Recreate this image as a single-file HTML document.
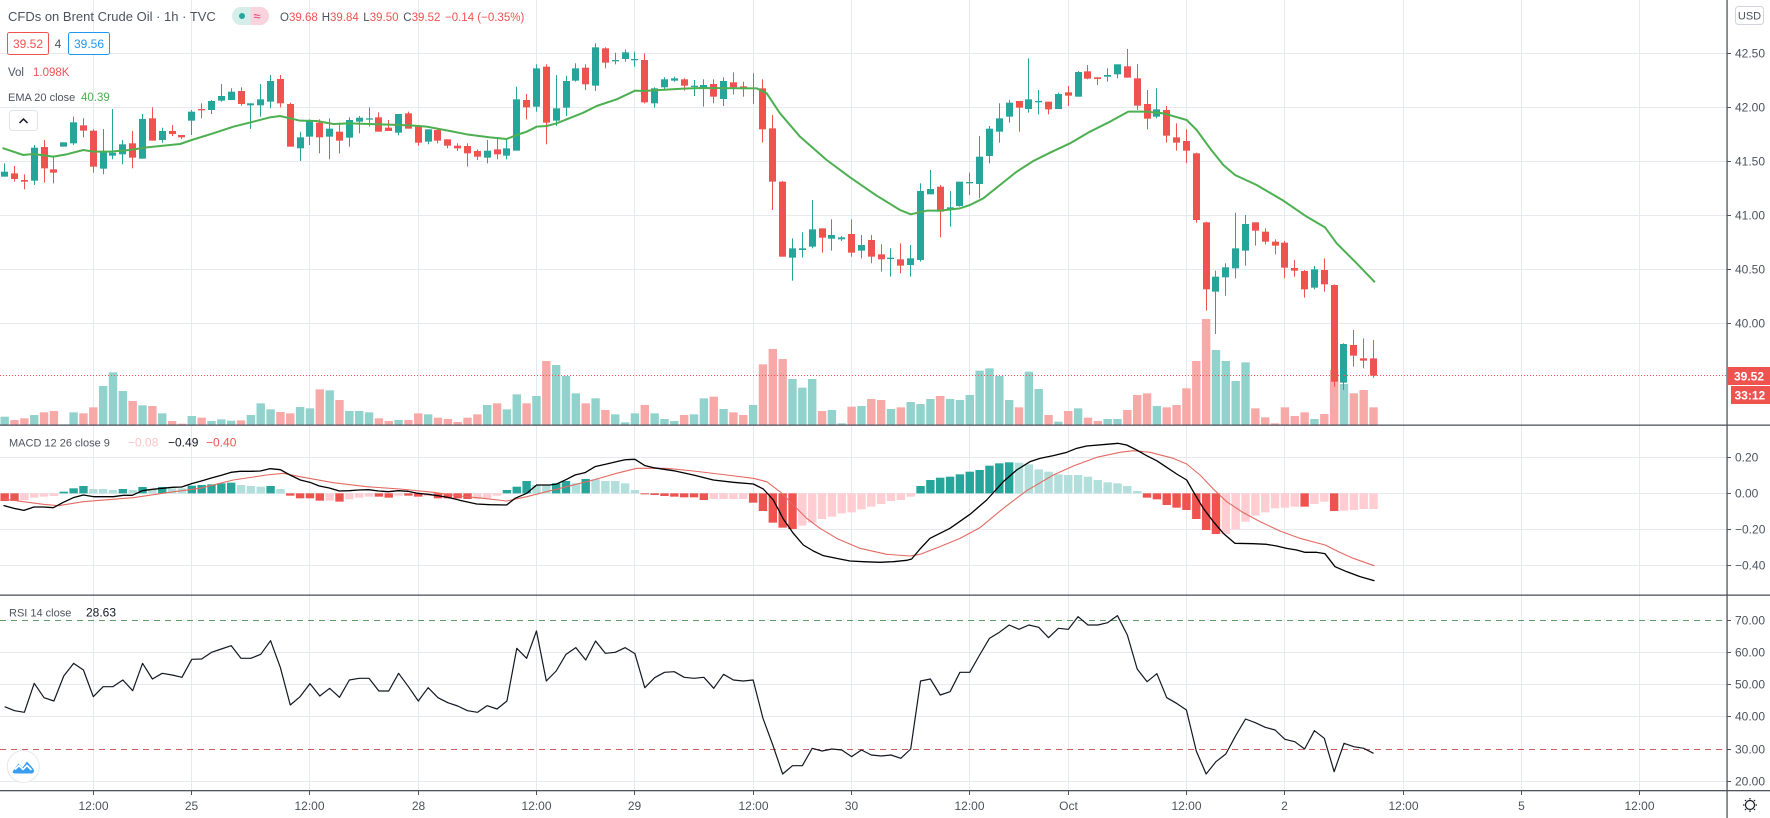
<!DOCTYPE html>
<html><head><meta charset="utf-8">
<style>
html,body{margin:0;padding:0;background:#fff;width:1770px;height:818px;overflow:hidden;}
.L{position:absolute;left:0;top:0;width:1770px;height:818px;}
svg text{font-family:"Liberation Sans",Arial,sans-serif;}
</style></head><body>
<svg class="L" width="1770" height="818">
<g stroke="#e6e9ee" stroke-width="1">
<line x1="0" y1="53.5" x2="1727" y2="53.5"/><line x1="0" y1="107.5" x2="1727" y2="107.5"/><line x1="0" y1="161.5" x2="1727" y2="161.5"/><line x1="0" y1="215.5" x2="1727" y2="215.5"/><line x1="0" y1="269.5" x2="1727" y2="269.5"/><line x1="0" y1="323.5" x2="1727" y2="323.5"/>
<line x1="0" y1="457.5" x2="1727" y2="457.5"/><line x1="0" y1="493.5" x2="1727" y2="493.5"/><line x1="0" y1="529.5" x2="1727" y2="529.5"/><line x1="0" y1="565.5" x2="1727" y2="565.5"/>
<line x1="0" y1="652.5" x2="1727" y2="652.5"/><line x1="0" y1="684.5" x2="1727" y2="684.5"/><line x1="0" y1="716.5" x2="1727" y2="716.5"/><line x1="0" y1="781.5" x2="1727" y2="781.5"/>
<line x1="93.5" y1="0" x2="93.5" y2="791"/><line x1="191.5" y1="0" x2="191.5" y2="791"/><line x1="309.5" y1="0" x2="309.5" y2="791"/><line x1="418.5" y1="0" x2="418.5" y2="791"/><line x1="536.5" y1="0" x2="536.5" y2="791"/><line x1="634.5" y1="0" x2="634.5" y2="791"/><line x1="753.5" y1="0" x2="753.5" y2="791"/><line x1="851.5" y1="0" x2="851.5" y2="791"/><line x1="969.5" y1="0" x2="969.5" y2="791"/><line x1="1068.5" y1="0" x2="1068.5" y2="791"/><line x1="1186.5" y1="0" x2="1186.5" y2="791"/><line x1="1284.5" y1="0" x2="1284.5" y2="791"/><line x1="1403.5" y1="0" x2="1403.5" y2="791"/><line x1="1521.5" y1="0" x2="1521.5" y2="791"/><line x1="1639.5" y1="0" x2="1639.5" y2="791"/>
</g>
<line x1="0" y1="620.5" x2="1727" y2="620.5" stroke="#5f9e66" stroke-width="1" stroke-dasharray="6 5"/>
<line x1="0" y1="749.5" x2="1727" y2="749.5" stroke="#cf5f5f" stroke-width="1" stroke-dasharray="6 5"/>
</svg>
<div id="dyn" class="L"></div>
<svg class="L" width="1770" height="818">
<line x1="0" y1="375.5" x2="1727" y2="375.5" stroke="#ef5350" stroke-width="1" stroke-dasharray="1 2"/>
<rect x="0" y="424.5" width="1770" height="1.3" fill="#50535e"/>
<rect x="0" y="594.5" width="1770" height="1.3" fill="#50535e"/>
<rect x="0" y="790" width="1770" height="1.3" fill="#50535e"/>
<rect x="1726.4" y="0" width="1.3" height="818" fill="#50535e"/>
<g stroke="#50535e" stroke-width="1">
<line x1="1727" y1="53.5" x2="1731" y2="53.5"/><line x1="1727" y1="107.5" x2="1731" y2="107.5"/><line x1="1727" y1="161.5" x2="1731" y2="161.5"/><line x1="1727" y1="215.5" x2="1731" y2="215.5"/><line x1="1727" y1="269.5" x2="1731" y2="269.5"/><line x1="1727" y1="323.5" x2="1731" y2="323.5"/>
<line x1="1727" y1="457.5" x2="1731" y2="457.5"/><line x1="1727" y1="493.5" x2="1731" y2="493.5"/><line x1="1727" y1="529.5" x2="1731" y2="529.5"/><line x1="1727" y1="565.5" x2="1731" y2="565.5"/>
<line x1="1727" y1="620.5" x2="1731" y2="620.5"/><line x1="1727" y1="652.5" x2="1731" y2="652.5"/><line x1="1727" y1="684.5" x2="1731" y2="684.5"/><line x1="1727" y1="716.5" x2="1731" y2="716.5"/><line x1="1727" y1="749.5" x2="1731" y2="749.5"/><line x1="1727" y1="781.5" x2="1731" y2="781.5"/>
<line x1="93.5" y1="791" x2="93.5" y2="795"/><line x1="191.5" y1="791" x2="191.5" y2="795"/><line x1="309.5" y1="791" x2="309.5" y2="795"/><line x1="418.5" y1="791" x2="418.5" y2="795"/><line x1="536.5" y1="791" x2="536.5" y2="795"/><line x1="634.5" y1="791" x2="634.5" y2="795"/><line x1="753.5" y1="791" x2="753.5" y2="795"/><line x1="851.5" y1="791" x2="851.5" y2="795"/><line x1="969.5" y1="791" x2="969.5" y2="795"/><line x1="1068.5" y1="791" x2="1068.5" y2="795"/><line x1="1186.5" y1="791" x2="1186.5" y2="795"/><line x1="1284.5" y1="791" x2="1284.5" y2="795"/><line x1="1403.5" y1="791" x2="1403.5" y2="795"/><line x1="1521.5" y1="791" x2="1521.5" y2="795"/><line x1="1639.5" y1="791" x2="1639.5" y2="795"/>
</g>
<g font-size="12" fill="#4c525e">
<text x="1735" y="57.5">42.50</text><text x="1735" y="111.5">42.00</text><text x="1735" y="165.5">41.50</text><text x="1735" y="219.5">41.00</text><text x="1735" y="273.5">40.50</text><text x="1735" y="327.5">40.00</text>
<text x="1735" y="461.5">0.20</text><text x="1735" y="497.5">0.00</text><text x="1735" y="533.5">−0.20</text><text x="1735" y="569.5">−0.40</text>
<text x="1735" y="624.5">70.00</text><text x="1735" y="656.5">60.00</text><text x="1735" y="688.5">50.00</text><text x="1735" y="720.5">40.00</text><text x="1735" y="753.5">30.00</text><text x="1735" y="785.5">20.00</text>
</g>
<g font-size="12" fill="#4c525e" text-anchor="middle">
<text x="93.5" y="810">12:00</text><text x="191.5" y="810">25</text><text x="309.5" y="810">12:00</text><text x="418.5" y="810">28</text><text x="536.5" y="810">12:00</text><text x="634.5" y="810">29</text><text x="753.5" y="810">12:00</text><text x="851.5" y="810">30</text><text x="969.5" y="810">12:00</text><text x="1068.5" y="810">Oct</text><text x="1186.5" y="810">12:00</text><text x="1284.5" y="810">2</text><text x="1403.5" y="810">12:00</text><text x="1521.5" y="810">5</text><text x="1639.5" y="810">12:00</text>
</g>
<rect x="1735.5" y="6.5" width="28" height="18" rx="3" fill="#fff" stroke="#d1d4dc"/>
<text x="1749.5" y="19.5" font-size="11" fill="#4c525e" text-anchor="middle">USD</text>
<rect x="1727" y="367" width="43" height="18" fill="#ef5350"/>
<text x="1734" y="380.5" font-size="12" fill="#fff" font-weight="bold">39.52</text>
<rect x="1731" y="386" width="39" height="18" fill="#ef5350"/>
<text x="1734.5" y="399.5" font-size="12" fill="#fff" font-weight="bold">33:12</text>
<g stroke="#131722" stroke-width="1.2" fill="none">
<circle cx="1750" cy="805" r="4.5"/>
<line x1="1750" y1="798" x2="1750" y2="799.5"/><line x1="1750" y1="810.5" x2="1750" y2="812"/><line x1="1743" y1="805" x2="1744.5" y2="805"/><line x1="1755.5" y1="805" x2="1757" y2="805"/>
<line x1="1745" y1="800" x2="1746" y2="801"/><line x1="1754" y1="809" x2="1755" y2="810"/><line x1="1755" y1="800" x2="1754" y2="801"/><line x1="1746" y1="809" x2="1745" y2="810"/>
</g>
<text x="8" y="21" font-size="13" fill="#4c525e">CFDs on Brent Crude Oil · 1h · TVC</text>
<rect x="232" y="7" width="37" height="18" rx="9" fill="#d5eeea"/>
<path d="M250.5,7 L260,7 A9,9 0 0 1 260,25 L250.5,25 Z" fill="#f9d3de"/>
<circle cx="242" cy="16" r="3" fill="#26a69a"/>
<text x="257" y="20.5" font-size="13" fill="#d63f73" text-anchor="middle">≈</text>
<g font-size="11.5">
<text x="280" y="21"><tspan fill="#4c525e">O</tspan><tspan fill="#ef5350">39.68</tspan></text>
<text x="321.7" y="21"><tspan fill="#4c525e">H</tspan><tspan fill="#ef5350">39.84</tspan></text>
<text x="363.3" y="21"><tspan fill="#4c525e">L</tspan><tspan fill="#ef5350">39.50</tspan></text>
<text x="403.3" y="21"><tspan fill="#4c525e">C</tspan><tspan fill="#ef5350">39.52</tspan></text>
<text x="445" y="21" fill="#ef5350">−0.14 (−0.35%)</text>
</g>
<rect x="7.5" y="32.5" width="41" height="22" rx="2" fill="#fff" stroke="#ef5350"/>
<text x="28" y="48" font-size="12" fill="#ef5350" text-anchor="middle">39.52</text>
<text x="58" y="48" font-size="12" fill="#4c525e" text-anchor="middle">4</text>
<rect x="68.5" y="32.5" width="41" height="22" rx="2" fill="#fff" stroke="#2196f3"/>
<text x="89" y="48" font-size="12" fill="#2196f3" text-anchor="middle">39.56</text>
<text x="8" y="76" font-size="11.5" fill="#4c525e">Vol</text>
<text x="33" y="76" font-size="11.5" fill="#ef5350">1.098K</text>
<text x="8" y="101" font-size="11" fill="#4c525e">EMA 20 close</text>
<text x="81" y="101" font-size="11.5" fill="#4caf50">40.39</text>
<rect x="9.5" y="110.5" width="28" height="20" rx="3" fill="#fff" stroke="#e0e3eb"/>
<path d="M19.5,123 L23.5,119 L27.5,123" fill="none" stroke="#131722" stroke-width="1.5"/>
<text x="9" y="446.5" font-size="11" fill="#4c525e">MACD 12 26 close 9</text>
<text x="128" y="446.5" font-size="12" fill="#f8c4c4">−0.08</text>
<text x="168" y="446.5" font-size="12" fill="#131722">−0.49</text>
<text x="206" y="446.5" font-size="12" fill="#ef5350">−0.40</text>
<text x="9" y="616.5" font-size="11" fill="#4c525e">RSI 14 close</text>
<text x="86" y="616.5" font-size="12" fill="#131722">28.63</text>
<circle cx="23.3" cy="766.5" r="16" fill="#fff" stroke="#e6e8ec"/>
<path d="M13,771 L18.5,763.5 L22.5,767.5 L27,761.5 L33.5,769 Q35,773.5 31,773.5 L15.5,773.5 Q12,773.5 13,771 Z" fill="#3a9df0"/>
<path d="M15,769.5 L19,765.5 L23,769.5 L27,765.5 L31.5,770" fill="none" stroke="#fff" stroke-width="1.6"/>
</svg>
<script>
var X0=4.67,DX=9.848;
function cx(i){return X0+DX*i;}
function my(z){return 30+z/3;}
function ly(z){return 425+z/3;}
function f(v){return v.toFixed(2);}
var C=[
['g',425,440,400,440],['r',430,447,408,455],['r',450,455,433,478],['g',353,452,345,465],['r',351,415,330,458],['r',418,428,378,460],['g',337,350,337,350],['g',277,340,260,345],['r',286,302,265,322],['r',302,410,298,428],
['g',365,416,297,433],['g',368,377,237,388],['g',343,373,330,403],['r',340,383,303,415],['g',267,386,252,386],['r',265,332,232,332],['g',303,330,293,338],['r',303,312,285,318],['r',315,322,315,327],['g',245,272,240,315],
['r',237,241,220,265],['g',213,240,210,252],['g',198,212,162,215],['g',185,210,175,210],['r',183,222,172,227],['g',220,226,220,297],['g',208,226,162,260],['g',153,215,135,235],['r',147,220,135,232],['r',222,350,218,350],
['g',322,355,305,393],['g',273,320,268,345],['r',278,322,268,370],['g',296,320,265,388],['r',305,332,278,370],['g',270,323,262,350],['g',263,275,258,310],['g',265,268,232,290],['r',262,305,247,305],['r',293,303,270,303],
['g',252,308,252,316],['r',250,296,245,296],['r',290,338,288,347],['g',298,335,298,343],['r',300,332,298,340],['r',328,347,328,355],['r',347,355,340,363],['r',348,370,340,410],['r',363,380,358,390],['g',362,383,330,400],
['r',358,373,322,388],['g',355,377,330,388],['g',208,362,170,362],['r',210,232,192,268],['g',115,230,103,245],['r',110,278,103,343],['g',235,272,135,288],['g',153,233,137,258],['g',115,152,100,155],['r',113,163,103,180],
['g',52,167,40,183],['r',55,98,52,115],['g',90,93,68,103],['g',67,87,58,95],['g',87,90,65,110],['r',90,217,70,220],['g',175,220,172,233],['g',148,172,142,178],['g',145,152,140,155],['r',148,167,145,182],
['g',167,170,150,198],['g',165,172,148,230],['r',162,200,148,220],['g',153,207,142,228],['r',157,172,127,193],['r',169,175,155,200],['g',173,177,130,222],['r',175,298,148,338],['r',295,455,255,540],['r',455,680,453,680],
['g',655,683,625,752],['g',655,660,607,683],['g',598,650,510,655],['r',595,623,595,668],['g',615,626,568,662],['g',622,628,618,633],['r',612,668,568,680],['g',645,662,615,685],['r',630,680,615,700],['r',673,688,643,725],
['g',683,687,655,740],['r',688,707,640,730],['g',685,705,645,740],['g',483,690,460,695],['g',477,493,420,493],['r',470,545,465,622],['g',532,538,483,590],['g',455,528,455,530],['g',456,460,428,495],['g',380,462,318,505],
['g',296,378,288,400],['g',265,305,220,338],['g',218,260,210,278],['r',213,233,213,305],['g',208,237,85,248],['g',213,215,180,253],['r',215,238,215,253],['g',192,237,188,237],['r',187,197,168,228],['g',126,200,123,200],
['r',124,146,105,148],['r',142,147,142,165],['g',135,140,115,155],['g',103,133,103,145],['r',109,143,57,143],['r',145,227,102,240],['r',222,266,180,298],['g',238,260,175,265],['r',240,317,228,338],['r',322,338,280,362],
['r',333,362,298,400],['r',370,570,368,578],['r',577,778,575,842],['g',740,785,722,912],['g',712,742,700,797],['g',655,715,548,745],['g',582,662,555,707],['r',577,602,577,647],['r',605,635,595,643],['r',635,647,628,673],
['r',638,713,633,745],['r',714,722,690,740],['r',723,778,720,803],['g',718,773,708,778],['r',720,763,685,785],['r',765,1055,763,1070],['g',942,1058,940,1080],['r',945,977,900,1010],['r',985,992,925,1015],['r',985,1037,930,1043]
];
var V=[1160,1170,1165,1155,1147,1143,1183,1147,1150,1132,1068,1027,1083,1113,1126,1128,1150,1173,1181,1158,1163,1173,1168,1172,1171,1155,1120,1138,1146,1150,1131,1135,1078,1081,1110,1143,
1143,1147,1165,1173,1170,1170,1150,1153,1163,1167,1176,1163,1153,1125,1120,1138,1093,1120,1098,993,1005,1038,1090,1120,1105,1140,1153,1177,1150,1125,1150,1167,1173,1155,1153,1105,
1100,1137,1147,1155,1125,1003,957,987,1047,1073,1047,1143,1140,1180,1130,1128,1107,1110,1137,1132,1116,1122,1107,1098,1107,1110,1095,1022,1015,1038,1110,1132,1025,1077,1155,1175,
1143,1135,1163,1173,1167,1167,1140,1095,1090,1128,1132,1125,1075,993,867,960,993,1053,997,1135,1162,1180,1132,1158,1147,1167,1152,1020,1062,1090,1080,1132];
var HS="R228 R228 r225 r218 r215 r213 G200 G190 G183 g192 g192 g195 G192 g195 G186 g192 G186 g190 g190 G182 G180 G178 G175 G173 g180 g183 g185 G183 g192 R212 R220 R220 R227 r227 R230 r223 r218 r215 R215 R218 r212 R212 R215 r213 R220 R220 R220 R222 "+
"r222 r220 r212 G195 G185 G168 g180 g180 G175 G168 g175 G162 g163 g168 g168 g175 g195 R207 R210 R213 R215 R217 R217 R225 r222 r222 r222 r222 R233 R258 R293 R308 R312 r302 r293 r282 r275 r265 r262 r253 r245 r237 r228 r225 r215 "+
"G183 G165 G158 G155 G148 G140 G135 G122 G115 G112 g113 g118 g133 g140 g148 g150 g150 g155 g165 g172 g175 g183 g198 R218 R223 R240 R248 R255 R282 R315 R327 r327 r313 r290 r272 r262 r250 r248 r245 R245 r237 r230 R258 r257 r255 r252 r252";
var R=[845,857,862,775,818,828,753,715,735,815,785,785,765,797,715,762,745,750,757,703,702,682,672,662,700,700,688,647,728,840,815,776,813,790,817,765,760,760,798,798,745,785,828,788,818,833,843,857,
862,842,852,828,670,700,618,768,738,688,668,705,648,685,682,668,686,788,758,742,740,757,760,757,790,748,765,768,765,880,960,1047,1022,1022,970,978,972,975,995,975,990,993,990,1000,972,
768,762,810,800,742,742,690,640,622,600,613,600,607,638,610,613,575,600,600,593,572,630,732,770,746,818,835,855,978,1047,1010,987,932,882,893,907,915,943,950,972,917,940,1040,955,965,970,985];
var EMA=[[0,0,350,[10,355,70,375,100,372,160,380,200,373,250,360,280,365,330,365,390,360,440,352,540,342,575,330,640,310,700,290,760,275,810,262,840,258,870,265,900,272,950,273,1000,282]],
[350,350,700,[0,280,90,283,180,286,230,290,300,303,350,313,420,322,470,327,500,315,530,305,560,290,590,288,620,280,700,248,740,228,800,208,855,182,880,183,930,180,1000,176]],
[700,700,1050,[0,174,170,175,200,190,240,250,300,320,380,390,450,442,530,497,600,540,632,553,680,542,720,542,780,535,810,525,850,505,900,465,950,425,1000,393]],
[1050,1050,9999,[0,368,60,340,120,305,180,275,235,245,290,245,340,250,410,270,440,300,480,355,520,405,555,435,620,465,700,512,770,560,825,592,860,640,920,700,973,755]]];
var MAC=[[0,0,460,[12,242,42,250,72,256,102,246,130,246,160,248,190,232,220,218,250,210,280,215,310,215,340,215,370,211,397,211,427,197,457,193,488,190,517,187,545,186,575,176,604,168,634,159,663,151,693,142,720,139,752,139,781,138,811,131,841,134,870,150,901,165,930,172,958,183,988,189,1018,198,1048,197,1076,195,1106,194,1136,198,1165,200,1195,197,1225,199,1254,205,1284,208,1313,212,1343,217,1373,224]],
[460,460,920,[0,226,50,237,90,239,140,240,165,220,200,205,230,180,270,180,290,177,320,163,345,150,375,143,405,125,440,117,470,110,497,104,525,103,555,122,580,128,640,137,700,150,760,165,820,172,880,177,910,192,940,225,970,282,1000,325,1030,360,1060,378,1090,392,1130,400,1170,408,1210,410,1260,412,1300,410,1340,406,1355,402,1380,370]],
[920,920,9999,[0,372,30,340,90,310,150,268,200,225,250,170,290,135,330,110,360,100,400,92,440,82,470,70,500,63,560,58,595,55,620,60,650,75,680,92,710,107,740,127,770,147,800,165,820,200,850,250,880,290,910,325,945,355,1000,356,1040,358,1070,363,1100,370,1130,375,1155,382,1190,382,1215,386,1245,425,1280,440,1320,455,1362,467]]];
var SIG=[[0,0,460,[12,222,70,230,130,238,175,242,250,230,400,218,500,203,600,190,700,165,800,150,850,145,900,155,1000,173,1100,185,1200,192,1300,202,1380,212]],
[460,460,920,[0,213,70,220,140,228,200,215,300,190,400,165,470,145,530,130,620,130,700,138,800,150,880,160,920,170,960,200,1000,240,1040,280,1080,310,1130,340,1200,370,1280,388,1350,393,1380,385]],
[920,920,9999,[0,388,60,365,120,340,180,308,250,250,320,197,400,150,460,123,530,97,600,82,640,77,690,82,760,100,800,117,840,150,880,192,920,230,970,263,1020,290,1080,318,1140,340,1215,360,1260,382,1300,400,1362,422]]];
function pl(segs,yf,col,w){var pts=[];segs.forEach(function(sg){var off=sg[0],lo=sg[1],hi=sg[2],a=sg[3];for(var j=0;j<a.length;j+=2){var x=off+a[j]/3;if(x>=lo&&x<hi)pts.push(f(x)+','+f(yf(a[j+1])));}});
return '<polyline points="'+pts.join(' ')+'" fill="none" stroke="'+col+'" stroke-width="'+w+'" stroke-linejoin="round" stroke-linecap="round"/>';}
var s='<svg width="1770" height="818" style="position:absolute;left:0;top:0">';
var i;
for(i=0;i<C.length;i++){var t=my(V[i]);s+='<rect x="'+f(cx(i)-4.2)+'" y="'+f(t)+'" width="8.4" height="'+f(425-t)+'" fill="'+(C[i][0]=='g'?'#92d2cc':'#f7a9a7')+'"/>';}
var HT=HS.split(' ');var HC={G:'#26a69a',g:'#b2dfdb',R:'#ef5350',r:'#ffcdd2'};
for(i=0;i<HT.length;i++){var k=HT[i].charAt(0),v=+HT[i].slice(1);var y0=ly(205),y1=ly(v);var tp=Math.min(y0,y1),hh=Math.max(Math.abs(y1-y0),1);
s+='<rect x="'+f(cx(i)-4.2)+'" y="'+f(tp)+'" width="8.4" height="'+f(hh)+'" fill="'+HC[k]+'"/>';}
for(i=0;i<C.length;i++){var c=C[i],col=c[0]=='g'?'#26a69a':'#ef5350';var xx=Math.floor(cx(i));var wt=my(c[3]),wb=my(c[4]),bt=my(c[1]),bb=my(c[2]);
s+='<rect x="'+xx+'" y="'+f(wt)+'" width="1" height="'+f(Math.max(wb-wt,1))+'" fill="'+col+'"/>';
s+='<rect x="'+(xx-3)+'" y="'+f(bt)+'" width="7" height="'+f(Math.max(bb-bt,1.3))+'" fill="'+col+'"/>';}
s+=pl(EMA,my,'#4caf50',2);
s+=pl(SIG,ly,'#e36a62',1.1);
s+=pl(MAC,ly,'#000000',1.3);
var rp=[];for(i=0;i<R.length;i++){rp.push(f(cx(i))+','+f(ly(R[i])));}
s+='<polyline points="'+rp.join(' ')+'" fill="none" stroke="#131722" stroke-width="1.2" stroke-linejoin="round"/>';
s+='</svg>';
document.getElementById('dyn').innerHTML=s;
</script>
</body></html>
